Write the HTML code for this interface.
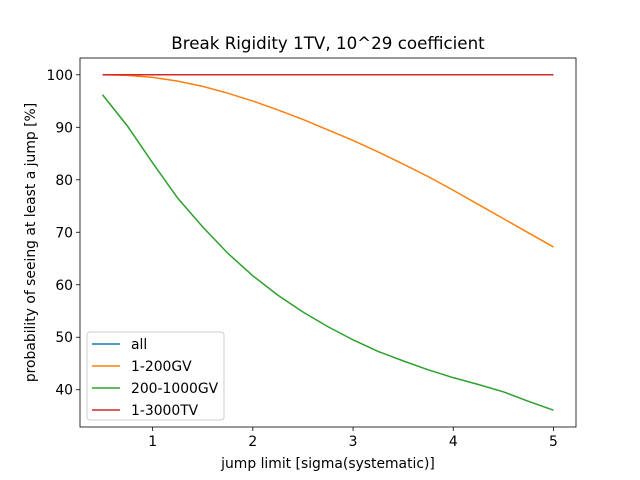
<!DOCTYPE html>
<html><head><meta charset="utf-8"><style>
body{margin:0;background:#fff;}
svg{display:block;font-family:"DejaVu Sans","Liberation Sans",sans-serif;}
</style></head><body>
<svg id="chart" width="640" height="480"></svg>
<script>
const xs=[0.5,0.75,1,1.25,1.5,1.75,2,2.25,2.5,2.75,3,3.25,3.5,3.75,4,4.25,4.5,4.75,5];
const allVals=[100,100,100,100,100,100,100,100,100,100,100,100,100,100,100,100,100,100,100];
const lowVals=[100,99.9,99.5,98.8,97.8,96.5,95.0,93.3,91.5,89.5,87.5,85.3,83.0,80.6,78.0,75.3,72.6,69.9,67.2];
const midVals=[96.2,90.2,83.2,76.5,71.0,66.0,61.7,58.0,54.8,52.0,49.5,47.3,45.5,43.8,42.3,41.0,39.6,37.8,36.1];
const highVals=[100,100,100,100,100,100,100,100,100,100,100,100,100,100,100,100,100,100,100];
const seriesNames=["all","1-200GV","200-1000GV","1-3000TV"];
const xTicks=[1,2,3,4,5];
const yTicks=[40,50,60,70,80,90,100];
const colors=["#1f77b4","#ff7f0e","#2ca02c","#d62728"];
const NS="http://www.w3.org/2000/svg";
const svg=document.getElementById('chart');
const L=80,R=576,T=58,B=427;
const xmin=0.275,xmax=5.225,ymin=32.9,ymax=103.2;
const X=v=>L+(v-xmin)/(xmax-xmin)*(R-L);
const Y=v=>B-(v-ymin)/(ymax-ymin)*(B-T);
function mk(t,a,p){const e=document.createElementNS(NS,t);for(const k in a)e.setAttribute(k,a[k]);(p||svg).appendChild(e);return e;}
let t=mk('text',{x:328,y:49,'text-anchor':'middle','font-size':16.7});t.textContent="Break Rigidity 1TV, 10^29 coefficient";


xTicks.forEach(v=>{const x=X(v);
 let l=mk('line',{x1:x,x2:x,y1:B,y2:B+4,stroke:'#000','stroke-width':0.8});
 
 
 let tx=mk('text',{x:x,y:B+19,'text-anchor':'middle','font-size':13.9});tx.textContent=v;
 
 });
yTicks.forEach(v=>{const y=Y(v);
 let l=mk('line',{x1:L-4,x2:L,y1:y,y2:y,stroke:'#000','stroke-width':0.8});
 
 
 let tx=mk('text',{x:L-7,y:y+5,'text-anchor':'end','font-size':13.9});tx.textContent=v;
 
 });
t=mk('text',{x:328,y:468,'text-anchor':'middle','font-size':13.9});t.textContent="jump limit [sigma(systematic)]";


t=mk('text',{x:0,y:0,'text-anchor':'middle','font-size':13.9,transform:`translate(35,${(T+B)/2}) rotate(-90)`});t.textContent="probability of seeing at least a jump [%]";


[allVals,lowVals,midVals,highVals].forEach((vals,i)=>{
 const p=mk('polyline',{points:xs.map((x,j)=>X(x)+','+Y(vals[j])).join(' '),fill:'none',stroke:colors[i],'stroke-width':1.5});
 
 });
let fr=mk('rect',{x:L,y:T,width:R-L,height:B-T,fill:'none',stroke:'#000','stroke-width':0.8});


const lg=mk('g',{});


mk('rect',{x:87,y:332,width:137,height:88,rx:3,fill:'#fff',stroke:'#ccc','fill-opacity':0.8},lg);
seriesNames.forEach((n,i)=>{const y=344+i*22;
 const g=mk('g',{},lg);
 
 
 mk('line',{x1:92,x2:120,y1:y,y2:y,stroke:colors[i],'stroke-width':1.5},g);
 const tx=mk('text',{x:131,y:y+5,'font-size':13.9},g);tx.textContent=n;});
</script>
</body></html>
